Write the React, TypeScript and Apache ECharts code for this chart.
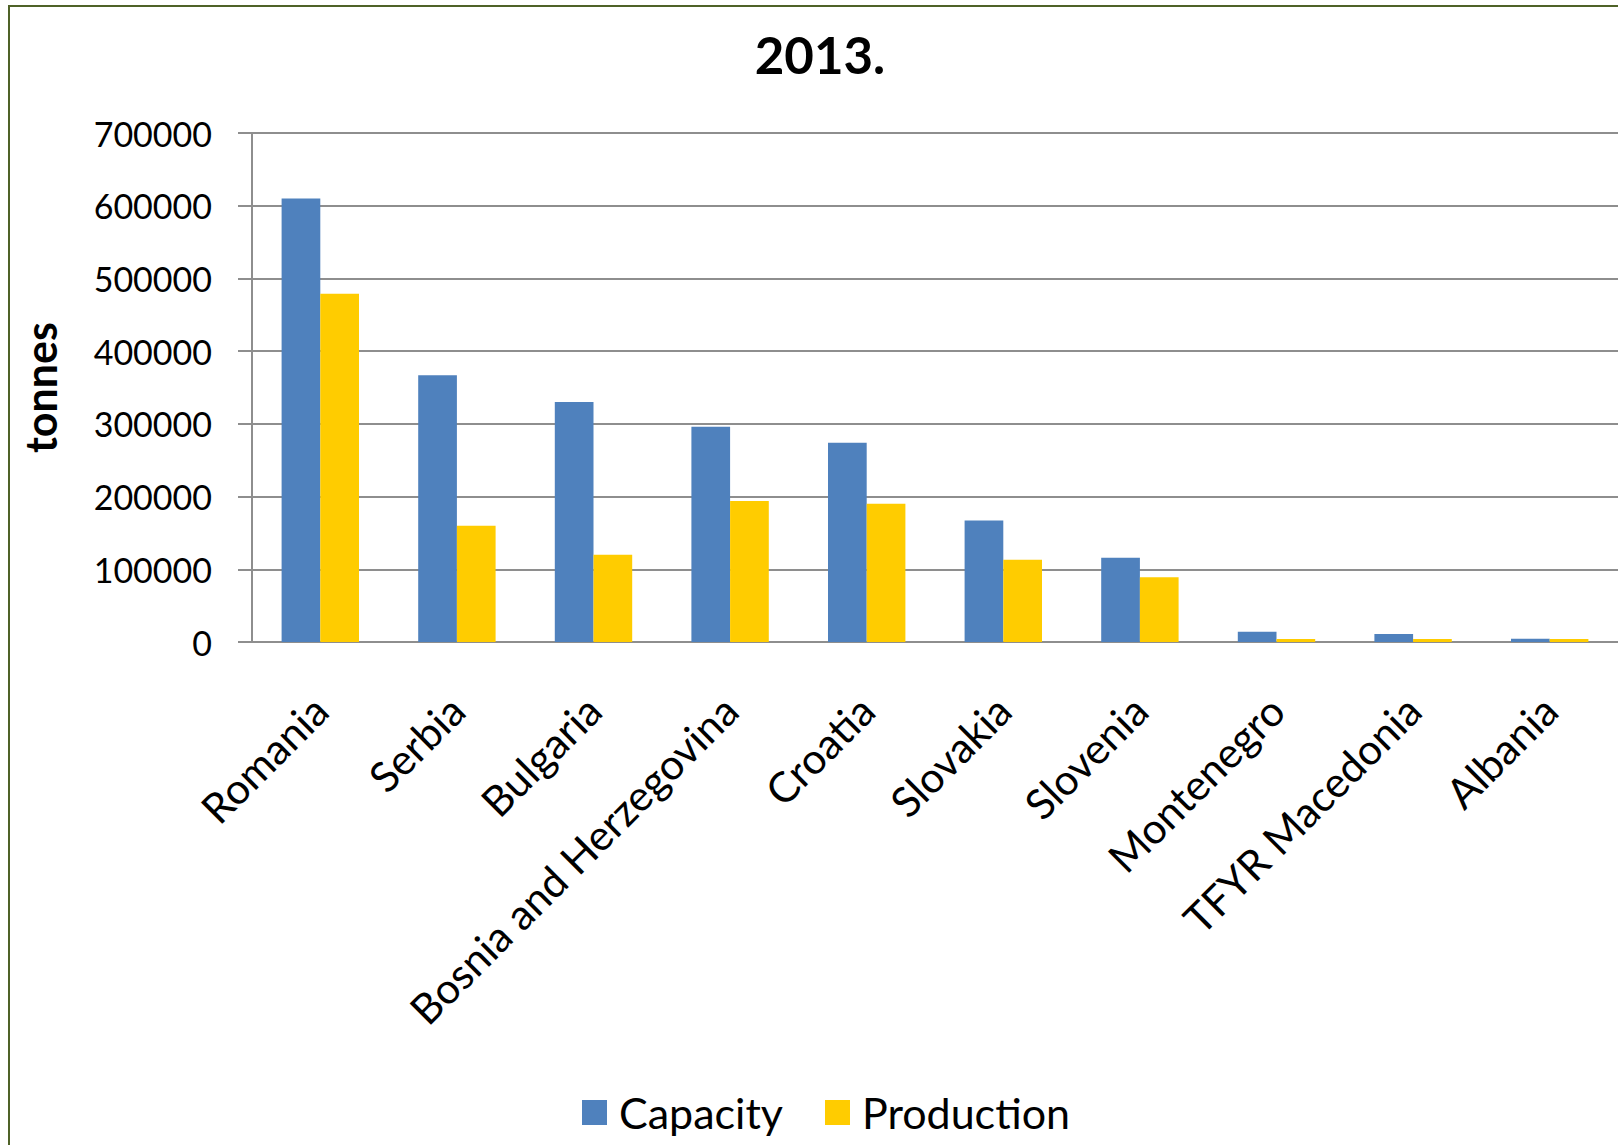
import React, { useEffect, useRef } from "react";
import * as echarts from "echarts";

const categories = [
  "Romania",
  "Serbia",
  "Bulgaria",
  "Bosnia and Herzegovina",
  "Croatia",
  "Slovakia",
  "Slovenia",
  "Montenegro",
  "TFYR Macedonia",
  "Albania",
];
const capacity = [610000, 367000, 330000, 296000, 274000, 167000, 116000, 14000, 11000, 4500];
const production = [479000, 160000, 120000, 194000, 190000, 113000, 89000, 4000, 4000, 4000];
const yTicks = { min: 0, max: 700000, interval: 100000 };

const FONT = "Lato";

export default function App() {
  const ref = useRef<HTMLDivElement>(null);
  useEffect(() => {
    if (!ref.current) return;
    const chart = echarts.init(ref.current, undefined, { renderer: "svg" });
    chart.setOption({
      animation: false,
      backgroundColor: "#ffffff",
      textStyle: { fontFamily: FONT },
      title: {
        text: "2013.",
        left: 815,
        top: 24,
        textAlign: "center",
        textStyle: { fontFamily: FONT, fontWeight: "bold", fontSize: 51, color: "#000" },
      },
      legend: {
        data: ["Capacity", "Production"],
        left: 577,
        top: 1086,
        itemWidth: 25,
        itemHeight: 25,
        itemGap: 42,
        icon: "rect",
        textStyle: { fontFamily: FONT, fontSize: 43, color: "#000", padding: [0, 0, 0, 7] },
      },
      grid: { left: 252, top: 133, width: 1376, height: 509, containLabel: false },
      xAxis: {
        type: "category",
        data: categories,
        axisLine: { lineStyle: { color: "#8e8e8e", width: 2 } },
        axisTick: { show: false },
        axisLabel: {
          rotate: 45,
          interval: 0,
          margin: 61,
          fontFamily: FONT,
          fontSize: 42,
          color: "#000",
        },
      },
      yAxis: {
        type: "value",
        min: yTicks.min,
        max: yTicks.max,
        interval: yTicks.interval,
        name: "tonnes",
        nameLocation: "middle",
        nameRotate: 90,
        nameGap: 190,
        nameTextStyle: { fontFamily: FONT, fontWeight: "bold", fontSize: 43, color: "#000" },
        axisLine: { show: true, lineStyle: { color: "#8e8e8e", width: 2 } },
        axisTick: { show: true, length: 14, lineStyle: { color: "#8e8e8e", width: 2 } },
        splitLine: { lineStyle: { color: "#8e8e8e", width: 2 } },
        axisLabel: {
          margin: 40,
          fontFamily: FONT,
          fontSize: 34,
          color: "#000",
          formatter: (v: number) => String(v),
        },
      },
      series: [
        {
          name: "Capacity",
          type: "bar",
          data: capacity,
          barWidth: 38.7,
          barGap: "0%",
          itemStyle: { color: "#4F81BD" },
        },
        {
          name: "Production",
          type: "bar",
          data: production,
          barWidth: 38.7,
          barGap: "0%",
          itemStyle: { color: "#FFCC00" },
        },
      ],
      graphic: [
        {
          type: "rect",
          silent: true,
          z: 100,
          shape: { x: 9, y: 6, width: 1700, height: 1300 },
          style: { fill: "none", stroke: "#4F6228", lineWidth: 2 },
        },
      ],
    });
    return () => chart.dispose();
  }, []);
  return (
    <div
      ref={ref}
      style={{ position: "absolute", left: 0, top: 0, width: 1618, height: 1145 }}
    />
  );
}
